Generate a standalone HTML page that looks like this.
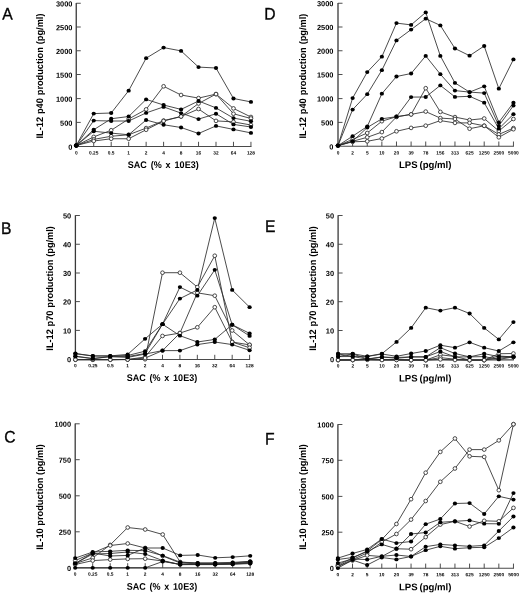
<!DOCTYPE html>
<html lang="en">
<head>
<meta charset="utf-8">
<title>IL-12 p40, IL-12 p70 and IL-10 production</title>
<style>
html,body{margin:0;padding:0;background:#fff;}
body{width:520px;height:593px;overflow:hidden;}
svg{display:block;filter:blur(0.3px);}
text{font-family:"Liberation Sans",sans-serif;fill:#000;text-rendering:geometricPrecision;}
.pl{font-size:16.7px;font-weight:400;stroke:#111;stroke-width:0.35px;}
.yt{font-size:7.4px;font-weight:700;text-anchor:end;}
.xt{font-size:4.8px;font-weight:700;text-anchor:middle;}
.at{font-size:9.6px;font-weight:700;text-anchor:middle;}
.ay{fill:none;stroke:#3a3a3a;stroke-width:1.3;}
.ax{fill:none;stroke:#4a4a4a;stroke-width:1.1;}
.tk{fill:none;stroke:#444;stroke-width:0.95;}
.ln{fill:none;stroke:#2c2c2c;stroke-width:0.85;stroke-linejoin:round;}
.mo{fill:#fff;stroke:#2a2a2a;stroke-width:0.85;}
.mf{fill:#000;}
</style>
</head>
<body>
<svg width="520" height="593" viewBox="0 0 520 593" role="img" aria-label="Cytokine production curves, panels A to F">
<rect width="520" height="593" fill="#fff"/>
<g class="panel">
<text class="pl" transform="matrix(0.94 .0005 0 1 2.3 19.6)">A</text>
<path class="ay" d="M76.25 3V147"/>
<path class="ax" d="M75.75 146.5H251.45"/>
<path class="tk" d="M76.25 3.25h4.5M76.25 27h4.5M76.25 50.75h4.5M76.25 74.5h4.5M76.25 98.6h4.5M76.25 122.4h4.5M93.72 146.5v-4.7M111.19 146.5v-4.7M128.66 146.5v-4.7M146.13 146.5v-4.7M163.6 146.5v-4.7M181.07 146.5v-4.7M198.54 146.5v-4.7M216.01 146.5v-4.7M233.48 146.5v-4.7M250.95 146.5v-4.7"/>
<text class="yt" transform="matrix(1 .0005 0 1 72.4 6.5)">3000</text>
<text class="yt" transform="matrix(1 .0005 0 1 72.4 30.25)">2500</text>
<text class="yt" transform="matrix(1 .0005 0 1 72.4 54)">2000</text>
<text class="yt" transform="matrix(1 .0005 0 1 72.4 77.75)">1500</text>
<text class="yt" transform="matrix(1 .0005 0 1 72.4 101.85)">1000</text>
<text class="yt" transform="matrix(1 .0005 0 1 72.4 125.65)">500</text>
<text class="yt" transform="matrix(1 .0005 0 1 72.4 149.75)">0</text>
<text class="xt" transform="matrix(1 .0005 0 1 76.25 154.6)">0</text>
<text class="xt" transform="matrix(1 .0005 0 1 93.72 154.6)">0.25</text>
<text class="xt" transform="matrix(1 .0005 0 1 111.19 154.6)">0.5</text>
<text class="xt" transform="matrix(1 .0005 0 1 128.66 154.6)">1</text>
<text class="xt" transform="matrix(1 .0005 0 1 146.13 154.6)">2</text>
<text class="xt" transform="matrix(1 .0005 0 1 163.6 154.6)">4</text>
<text class="xt" transform="matrix(1 .0005 0 1 181.07 154.6)">8</text>
<text class="xt" transform="matrix(1 .0005 0 1 198.54 154.6)">16</text>
<text class="xt" transform="matrix(1 .0005 0 1 216.01 154.6)">32</text>
<text class="xt" transform="matrix(1 .0005 0 1 233.48 154.6)">64</text>
<text class="xt" transform="matrix(1 .0005 0 1 250.95 154.6)">128</text>
<text class="at" transform="matrix(0.94 .0005 0 1 163.15 167.9)" style="word-spacing:1.55px">SAC (% x 10E3)</text>
<text class="at" transform="translate(43.4 76) rotate(-90) scale(0.96 1)" style="word-spacing:0.4px">IL-12 p40 production (pg/ml)</text>
<polyline class="ln" points="76.25,145.5 93.72,113.6 111.19,113 128.66,90.7 146.13,58.2 163.6,47.6 181.07,50.9 198.54,67.1 216.01,68 233.48,98.5 250.95,101.9"/>
<polyline class="ln" points="76.25,145.5 93.72,120.6 111.19,121 128.66,121 146.13,112.9 163.6,106.9 181.07,113.1 198.54,119.1 216.01,113.75 233.48,124.4 250.95,127"/>
<polyline class="ln" points="76.25,145.5 93.72,129.75 111.19,118.75 128.66,116.5 146.13,99.4 163.6,105 181.07,109.4 198.54,101 216.01,107.9 233.48,118.1 250.95,121.25"/>
<polyline class="ln" points="76.25,145.5 93.72,131.25 111.19,133.1 128.66,134.75 146.13,120 163.6,124.75 181.07,127.5 198.54,133.5 216.01,125.9 233.48,129.4 250.95,132.9"/>
<polyline class="ln" points="76.25,145.5 93.72,136.9 111.19,130.25 128.66,119 146.13,109.4 163.6,86.3 181.07,95 198.54,98.1 216.01,94.1 233.48,108.4 250.95,117"/>
<polyline class="ln" points="76.25,145.5 93.72,139.4 111.19,136.25 128.66,134.75 146.13,128.1 163.6,120.6 181.07,116.5 198.54,103.5 216.01,94.1 233.48,113.75 250.95,118.5"/>
<polyline class="ln" points="76.25,145.5 93.72,141 111.19,138.75 128.66,138.75 146.13,129.75 163.6,121 181.07,116.5 198.54,109 216.01,120.9 233.48,121.9 250.95,125"/>
<circle class="mo" cx="76.25" cy="145.5" r="1.85"/>
<circle class="mo" cx="93.72" cy="136.9" r="1.85"/>
<circle class="mo" cx="111.19" cy="130.25" r="1.85"/>
<circle class="mo" cx="128.66" cy="119" r="1.85"/>
<circle class="mo" cx="146.13" cy="109.4" r="1.85"/>
<circle class="mo" cx="163.6" cy="86.3" r="1.85"/>
<circle class="mo" cx="181.07" cy="95" r="1.85"/>
<circle class="mo" cx="198.54" cy="98.1" r="1.85"/>
<circle class="mo" cx="216.01" cy="94.1" r="1.85"/>
<circle class="mo" cx="233.48" cy="108.4" r="1.85"/>
<circle class="mo" cx="250.95" cy="117" r="1.85"/>
<circle class="mo" cx="76.25" cy="145.5" r="1.85"/>
<circle class="mo" cx="93.72" cy="139.4" r="1.85"/>
<circle class="mo" cx="111.19" cy="136.25" r="1.85"/>
<circle class="mo" cx="128.66" cy="134.75" r="1.85"/>
<circle class="mo" cx="146.13" cy="128.1" r="1.85"/>
<circle class="mo" cx="163.6" cy="120.6" r="1.85"/>
<circle class="mo" cx="181.07" cy="116.5" r="1.85"/>
<circle class="mo" cx="198.54" cy="103.5" r="1.85"/>
<circle class="mo" cx="216.01" cy="94.1" r="1.85"/>
<circle class="mo" cx="233.48" cy="113.75" r="1.85"/>
<circle class="mo" cx="250.95" cy="118.5" r="1.85"/>
<circle class="mo" cx="76.25" cy="145.5" r="1.85"/>
<circle class="mo" cx="93.72" cy="141" r="1.85"/>
<circle class="mo" cx="111.19" cy="138.75" r="1.85"/>
<circle class="mo" cx="128.66" cy="138.75" r="1.85"/>
<circle class="mo" cx="146.13" cy="129.75" r="1.85"/>
<circle class="mo" cx="163.6" cy="121" r="1.85"/>
<circle class="mo" cx="181.07" cy="116.5" r="1.85"/>
<circle class="mo" cx="198.54" cy="109" r="1.85"/>
<circle class="mo" cx="216.01" cy="120.9" r="1.85"/>
<circle class="mo" cx="233.48" cy="121.9" r="1.85"/>
<circle class="mo" cx="250.95" cy="125" r="1.85"/>
<ellipse class="mf" cx="76.25" cy="145.5" rx="2.1" ry="1.9"/>
<ellipse class="mf" cx="93.72" cy="113.6" rx="2.1" ry="1.9"/>
<ellipse class="mf" cx="111.19" cy="113" rx="2.1" ry="1.9"/>
<ellipse class="mf" cx="128.66" cy="90.7" rx="2.1" ry="1.9"/>
<ellipse class="mf" cx="146.13" cy="58.2" rx="2.1" ry="1.9"/>
<ellipse class="mf" cx="163.6" cy="47.6" rx="2.1" ry="1.9"/>
<ellipse class="mf" cx="181.07" cy="50.9" rx="2.1" ry="1.9"/>
<ellipse class="mf" cx="198.54" cy="67.1" rx="2.1" ry="1.9"/>
<ellipse class="mf" cx="216.01" cy="68" rx="2.1" ry="1.9"/>
<ellipse class="mf" cx="233.48" cy="98.5" rx="2.1" ry="1.9"/>
<ellipse class="mf" cx="250.95" cy="101.9" rx="2.1" ry="1.9"/>
<ellipse class="mf" cx="76.25" cy="145.5" rx="2.1" ry="1.9"/>
<ellipse class="mf" cx="93.72" cy="120.6" rx="2.1" ry="1.9"/>
<ellipse class="mf" cx="111.19" cy="121" rx="2.1" ry="1.9"/>
<ellipse class="mf" cx="128.66" cy="121" rx="2.1" ry="1.9"/>
<ellipse class="mf" cx="146.13" cy="112.9" rx="2.1" ry="1.9"/>
<ellipse class="mf" cx="163.6" cy="106.9" rx="2.1" ry="1.9"/>
<ellipse class="mf" cx="181.07" cy="113.1" rx="2.1" ry="1.9"/>
<ellipse class="mf" cx="198.54" cy="119.1" rx="2.1" ry="1.9"/>
<ellipse class="mf" cx="216.01" cy="113.75" rx="2.1" ry="1.9"/>
<ellipse class="mf" cx="233.48" cy="124.4" rx="2.1" ry="1.9"/>
<ellipse class="mf" cx="250.95" cy="127" rx="2.1" ry="1.9"/>
<ellipse class="mf" cx="76.25" cy="145.5" rx="2.1" ry="1.9"/>
<ellipse class="mf" cx="93.72" cy="129.75" rx="2.1" ry="1.9"/>
<ellipse class="mf" cx="111.19" cy="118.75" rx="2.1" ry="1.9"/>
<ellipse class="mf" cx="128.66" cy="116.5" rx="2.1" ry="1.9"/>
<ellipse class="mf" cx="146.13" cy="99.4" rx="2.1" ry="1.9"/>
<ellipse class="mf" cx="163.6" cy="105" rx="2.1" ry="1.9"/>
<ellipse class="mf" cx="181.07" cy="109.4" rx="2.1" ry="1.9"/>
<ellipse class="mf" cx="198.54" cy="101" rx="2.1" ry="1.9"/>
<ellipse class="mf" cx="216.01" cy="107.9" rx="2.1" ry="1.9"/>
<ellipse class="mf" cx="233.48" cy="118.1" rx="2.1" ry="1.9"/>
<ellipse class="mf" cx="250.95" cy="121.25" rx="2.1" ry="1.9"/>
<ellipse class="mf" cx="76.25" cy="145.5" rx="2.1" ry="1.9"/>
<ellipse class="mf" cx="93.72" cy="131.25" rx="2.1" ry="1.9"/>
<ellipse class="mf" cx="111.19" cy="133.1" rx="2.1" ry="1.9"/>
<ellipse class="mf" cx="128.66" cy="134.75" rx="2.1" ry="1.9"/>
<ellipse class="mf" cx="146.13" cy="120" rx="2.1" ry="1.9"/>
<ellipse class="mf" cx="163.6" cy="124.75" rx="2.1" ry="1.9"/>
<ellipse class="mf" cx="181.07" cy="127.5" rx="2.1" ry="1.9"/>
<ellipse class="mf" cx="198.54" cy="133.5" rx="2.1" ry="1.9"/>
<ellipse class="mf" cx="216.01" cy="125.9" rx="2.1" ry="1.9"/>
<ellipse class="mf" cx="233.48" cy="129.4" rx="2.1" ry="1.9"/>
<ellipse class="mf" cx="250.95" cy="132.9" rx="2.1" ry="1.9"/>
</g>
<g class="panel">
<text class="pl" transform="matrix(0.94 .0005 0 1 1 233.9)">B</text>
<path class="ay" d="M75.4 215.2V360"/>
<path class="ax" d="M74.9 359.5H250.1"/>
<path class="tk" d="M75.4 215.5h4.5M75.4 244.25h4.5M75.4 273h4.5M75.4 301.6h4.5M75.4 330.4h4.5M92.82 359.5v-4.7M110.24 359.5v-4.7M127.66 359.5v-4.7M145.08 359.5v-4.7M162.5 359.5v-4.7M179.92 359.5v-4.7M197.34 359.5v-4.7M214.76 359.5v-4.7M232.18 359.5v-4.7M249.6 359.5v-4.7"/>
<text class="yt" transform="matrix(1 .0005 0 1 71.2 218.5)">50</text>
<text class="yt" transform="matrix(1 .0005 0 1 71.2 247.25)">40</text>
<text class="yt" transform="matrix(1 .0005 0 1 71.2 276)">30</text>
<text class="yt" transform="matrix(1 .0005 0 1 71.2 304.6)">20</text>
<text class="yt" transform="matrix(1 .0005 0 1 71.2 333.4)">10</text>
<text class="yt" transform="matrix(1 .0005 0 1 71.2 362.3)">0</text>
<text class="xt" transform="matrix(1 .0005 0 1 75.4 367.2)">0</text>
<text class="xt" transform="matrix(1 .0005 0 1 92.82 367.2)">0.25</text>
<text class="xt" transform="matrix(1 .0005 0 1 110.24 367.2)">0.5</text>
<text class="xt" transform="matrix(1 .0005 0 1 127.66 367.2)">1</text>
<text class="xt" transform="matrix(1 .0005 0 1 145.08 367.2)">2</text>
<text class="xt" transform="matrix(1 .0005 0 1 162.5 367.2)">4</text>
<text class="xt" transform="matrix(1 .0005 0 1 179.92 367.2)">8</text>
<text class="xt" transform="matrix(1 .0005 0 1 197.34 367.2)">16</text>
<text class="xt" transform="matrix(1 .0005 0 1 214.76 367.2)">32</text>
<text class="xt" transform="matrix(1 .0005 0 1 232.18 367.2)">64</text>
<text class="xt" transform="matrix(1 .0005 0 1 249.6 367.2)">128</text>
<text class="at" transform="matrix(0.94 .0005 0 1 161.95 381)" style="word-spacing:1.34px">SAC (% x 10E3)</text>
<text class="at" transform="translate(52.7 288.4) rotate(-90) scale(0.96 1)" style="word-spacing:0.26px">IL-12 p70 production (pg/ml)</text>
<polyline class="ln" points="75.4,353.5 92.82,355.9 110.24,355.9 127.66,354.4 145.08,338.84 162.5,324.18 179.92,335.68 197.34,342 214.76,339.41 232.18,324.75 249.6,333.38"/>
<polyline class="ln" points="75.4,353.7 92.82,356 110.24,356 127.66,355.5 145.08,351.2 162.5,324.18 179.92,287.09 197.34,295.71 214.76,269.84 232.18,324.75 249.6,335.96"/>
<polyline class="ln" points="75.4,356.2 92.82,358.5 110.24,356.5 127.66,356.6 145.08,353.5 162.5,324.18 179.92,298.59 197.34,289.96 214.76,218.09 232.18,289.96 249.6,307.21"/>
<polyline class="ln" points="75.4,356.4 92.82,358.7 110.24,356.7 127.66,357.4 145.08,354.07 162.5,350.62 179.92,350.62 197.34,344.59 214.76,342 232.18,344.59 249.6,350.34"/>
<polyline class="ln" points="75.4,359.7 92.82,359.7 110.24,359.7 127.66,359.4 145.08,359.25 162.5,272.71 179.92,272.71 197.34,287.09 214.76,255.75 232.18,342 249.6,344.88"/>
<polyline class="ln" points="75.4,359.7 92.82,359.7 110.24,359.7 127.66,359.5 145.08,356.95 162.5,335.96 179.92,333.09 197.34,292.84 214.76,295.71 232.18,330.5 249.6,344.88"/>
<polyline class="ln" points="75.4,359.7 92.82,359.7 110.24,359.7 127.66,359.6 145.08,358.1 162.5,350.62 179.92,333.09 197.34,327.34 214.76,307.21 232.18,342 249.6,347.75"/>
<circle class="mo" cx="75.4" cy="359.7" r="1.85"/>
<circle class="mo" cx="92.82" cy="359.7" r="1.85"/>
<circle class="mo" cx="110.24" cy="359.7" r="1.85"/>
<circle class="mo" cx="127.66" cy="359.4" r="1.85"/>
<circle class="mo" cx="145.08" cy="359.25" r="1.85"/>
<circle class="mo" cx="162.5" cy="272.71" r="1.85"/>
<circle class="mo" cx="179.92" cy="272.71" r="1.85"/>
<circle class="mo" cx="197.34" cy="287.09" r="1.85"/>
<circle class="mo" cx="214.76" cy="255.75" r="1.85"/>
<circle class="mo" cx="232.18" cy="342" r="1.85"/>
<circle class="mo" cx="249.6" cy="344.88" r="1.85"/>
<circle class="mo" cx="75.4" cy="359.7" r="1.85"/>
<circle class="mo" cx="92.82" cy="359.7" r="1.85"/>
<circle class="mo" cx="110.24" cy="359.7" r="1.85"/>
<circle class="mo" cx="127.66" cy="359.5" r="1.85"/>
<circle class="mo" cx="145.08" cy="356.95" r="1.85"/>
<circle class="mo" cx="162.5" cy="335.96" r="1.85"/>
<circle class="mo" cx="179.92" cy="333.09" r="1.85"/>
<circle class="mo" cx="197.34" cy="292.84" r="1.85"/>
<circle class="mo" cx="214.76" cy="295.71" r="1.85"/>
<circle class="mo" cx="232.18" cy="330.5" r="1.85"/>
<circle class="mo" cx="249.6" cy="344.88" r="1.85"/>
<circle class="mo" cx="75.4" cy="359.7" r="1.85"/>
<circle class="mo" cx="92.82" cy="359.7" r="1.85"/>
<circle class="mo" cx="110.24" cy="359.7" r="1.85"/>
<circle class="mo" cx="127.66" cy="359.6" r="1.85"/>
<circle class="mo" cx="145.08" cy="358.1" r="1.85"/>
<circle class="mo" cx="162.5" cy="350.62" r="1.85"/>
<circle class="mo" cx="179.92" cy="333.09" r="1.85"/>
<circle class="mo" cx="197.34" cy="327.34" r="1.85"/>
<circle class="mo" cx="214.76" cy="307.21" r="1.85"/>
<circle class="mo" cx="232.18" cy="342" r="1.85"/>
<circle class="mo" cx="249.6" cy="347.75" r="1.85"/>
<ellipse class="mf" cx="75.4" cy="353.5" rx="2.1" ry="1.9"/>
<ellipse class="mf" cx="92.82" cy="355.9" rx="2.1" ry="1.9"/>
<ellipse class="mf" cx="110.24" cy="355.9" rx="2.1" ry="1.9"/>
<ellipse class="mf" cx="127.66" cy="354.4" rx="2.1" ry="1.9"/>
<ellipse class="mf" cx="145.08" cy="338.84" rx="2.1" ry="1.9"/>
<ellipse class="mf" cx="162.5" cy="324.18" rx="2.1" ry="1.9"/>
<ellipse class="mf" cx="179.92" cy="335.68" rx="2.1" ry="1.9"/>
<ellipse class="mf" cx="197.34" cy="342" rx="2.1" ry="1.9"/>
<ellipse class="mf" cx="214.76" cy="339.41" rx="2.1" ry="1.9"/>
<ellipse class="mf" cx="232.18" cy="324.75" rx="2.1" ry="1.9"/>
<ellipse class="mf" cx="249.6" cy="333.38" rx="2.1" ry="1.9"/>
<ellipse class="mf" cx="75.4" cy="353.7" rx="2.1" ry="1.9"/>
<ellipse class="mf" cx="92.82" cy="356" rx="2.1" ry="1.9"/>
<ellipse class="mf" cx="110.24" cy="356" rx="2.1" ry="1.9"/>
<ellipse class="mf" cx="127.66" cy="355.5" rx="2.1" ry="1.9"/>
<ellipse class="mf" cx="145.08" cy="351.2" rx="2.1" ry="1.9"/>
<ellipse class="mf" cx="162.5" cy="324.18" rx="2.1" ry="1.9"/>
<ellipse class="mf" cx="179.92" cy="287.09" rx="2.1" ry="1.9"/>
<ellipse class="mf" cx="197.34" cy="295.71" rx="2.1" ry="1.9"/>
<ellipse class="mf" cx="214.76" cy="269.84" rx="2.1" ry="1.9"/>
<ellipse class="mf" cx="232.18" cy="324.75" rx="2.1" ry="1.9"/>
<ellipse class="mf" cx="249.6" cy="335.96" rx="2.1" ry="1.9"/>
<ellipse class="mf" cx="75.4" cy="356.2" rx="2.1" ry="1.9"/>
<ellipse class="mf" cx="92.82" cy="358.5" rx="2.1" ry="1.9"/>
<ellipse class="mf" cx="110.24" cy="356.5" rx="2.1" ry="1.9"/>
<ellipse class="mf" cx="127.66" cy="356.6" rx="2.1" ry="1.9"/>
<ellipse class="mf" cx="145.08" cy="353.5" rx="2.1" ry="1.9"/>
<ellipse class="mf" cx="162.5" cy="324.18" rx="2.1" ry="1.9"/>
<ellipse class="mf" cx="179.92" cy="298.59" rx="2.1" ry="1.9"/>
<ellipse class="mf" cx="197.34" cy="289.96" rx="2.1" ry="1.9"/>
<ellipse class="mf" cx="214.76" cy="218.09" rx="2.1" ry="1.9"/>
<ellipse class="mf" cx="232.18" cy="289.96" rx="2.1" ry="1.9"/>
<ellipse class="mf" cx="249.6" cy="307.21" rx="2.1" ry="1.9"/>
<ellipse class="mf" cx="75.4" cy="356.4" rx="2.1" ry="1.9"/>
<ellipse class="mf" cx="92.82" cy="358.7" rx="2.1" ry="1.9"/>
<ellipse class="mf" cx="110.24" cy="356.7" rx="2.1" ry="1.9"/>
<ellipse class="mf" cx="127.66" cy="357.4" rx="2.1" ry="1.9"/>
<ellipse class="mf" cx="145.08" cy="354.07" rx="2.1" ry="1.9"/>
<ellipse class="mf" cx="162.5" cy="350.62" rx="2.1" ry="1.9"/>
<ellipse class="mf" cx="179.92" cy="350.62" rx="2.1" ry="1.9"/>
<ellipse class="mf" cx="197.34" cy="344.59" rx="2.1" ry="1.9"/>
<ellipse class="mf" cx="214.76" cy="342" rx="2.1" ry="1.9"/>
<ellipse class="mf" cx="232.18" cy="344.59" rx="2.1" ry="1.9"/>
<ellipse class="mf" cx="249.6" cy="350.34" rx="2.1" ry="1.9"/>
</g>
<g class="panel">
<text class="pl" transform="matrix(0.94 .0005 0 1 4.3 442.5)">C</text>
<path class="ay" d="M75.2 423.5V568.4"/>
<path class="ax" d="M74.7 567.9H250.7"/>
<path class="tk" d="M75.2 423.8h4.5M75.2 459.7h4.5M75.2 495.8h4.5M75.2 531.8h4.5M92.7 567.9v-4.7M110.2 567.9v-4.7M127.7 567.9v-4.7M145.2 567.9v-4.7M162.7 567.9v-4.7M180.2 567.9v-4.7M197.7 567.9v-4.7M215.2 567.9v-4.7M232.7 567.9v-4.7M250.2 567.9v-4.7"/>
<text class="yt" transform="matrix(1 .0005 0 1 71 426.8)">1000</text>
<text class="yt" transform="matrix(1 .0005 0 1 71 462.7)">750</text>
<text class="yt" transform="matrix(1 .0005 0 1 71 498.8)">500</text>
<text class="yt" transform="matrix(1 .0005 0 1 71 534.8)">250</text>
<text class="yt" transform="matrix(1 .0005 0 1 71 570.9)">0</text>
<text class="xt" transform="matrix(1 .0005 0 1 75.2 575.7)">0</text>
<text class="xt" transform="matrix(1 .0005 0 1 92.7 575.7)">0.25</text>
<text class="xt" transform="matrix(1 .0005 0 1 110.2 575.7)">0.5</text>
<text class="xt" transform="matrix(1 .0005 0 1 127.7 575.7)">1</text>
<text class="xt" transform="matrix(1 .0005 0 1 145.2 575.7)">2</text>
<text class="xt" transform="matrix(1 .0005 0 1 162.7 575.7)">4</text>
<text class="xt" transform="matrix(1 .0005 0 1 180.2 575.7)">8</text>
<text class="xt" transform="matrix(1 .0005 0 1 197.7 575.7)">16</text>
<text class="xt" transform="matrix(1 .0005 0 1 215.2 575.7)">32</text>
<text class="xt" transform="matrix(1 .0005 0 1 232.7 575.7)">64</text>
<text class="xt" transform="matrix(1 .0005 0 1 250.2 575.7)">128</text>
<text class="at" transform="matrix(0.94 .0005 0 1 161.95 589.7)" style="word-spacing:1.34px">SAC (% x 10E3)</text>
<text class="at" transform="translate(43.3 497) rotate(-90) scale(0.96 1)" style="word-spacing:0.1px">IL-10 production (pg/ml)</text>
<polyline class="ln" points="75.2,567.8 92.7,567.8 110.2,567.8 127.7,567.8 145.2,567.8 162.7,561.5 180.2,564.3 197.7,564.2 215.2,564.2 232.7,563.8 250.2,562.5"/>
<polyline class="ln" points="75.2,558.1 92.7,552 110.2,551.3 127.7,550.3 145.2,550.7 162.7,555.6 180.2,562.2 197.7,562.8 215.2,562.8 232.7,562.4 250.2,561.3"/>
<polyline class="ln" points="75.2,563.5 92.7,554 110.2,553.5 127.7,552 145.2,554 162.7,560.6 180.2,564.6 197.7,564.6 215.2,564.6 232.7,564.2 250.2,563.6"/>
<polyline class="ln" points="75.2,563.5 92.7,553 110.2,556 127.7,555.4 145.2,548 162.7,548 180.2,555.4 197.7,555 215.2,557.8 232.7,557.1 250.2,555.8"/>
<polyline class="ln" points="75.2,563.5 92.7,557.9 110.2,544.9 127.7,527.5 145.2,529.5 162.7,534.5 180.2,562 197.7,563.4 215.2,563.4 232.7,563 250.2,561.5"/>
<polyline class="ln" points="75.2,560.6 92.7,553 110.2,545.5 127.7,543.5 145.2,548 162.7,556 180.2,563 197.7,563.8 215.2,563.8 232.7,563.4 250.2,562.4"/>
<polyline class="ln" points="75.2,564.5 92.7,560.6 110.2,559.6 127.7,558.9 145.2,558.7 162.7,561 180.2,564.6 197.7,564.4 215.2,564.4 232.7,564 250.2,563.2"/>
<circle class="mo" cx="75.2" cy="563.5" r="1.85"/>
<circle class="mo" cx="92.7" cy="557.9" r="1.85"/>
<circle class="mo" cx="110.2" cy="544.9" r="1.85"/>
<circle class="mo" cx="127.7" cy="527.5" r="1.85"/>
<circle class="mo" cx="145.2" cy="529.5" r="1.85"/>
<circle class="mo" cx="162.7" cy="534.5" r="1.85"/>
<circle class="mo" cx="180.2" cy="562" r="1.85"/>
<circle class="mo" cx="197.7" cy="563.4" r="1.85"/>
<circle class="mo" cx="215.2" cy="563.4" r="1.85"/>
<circle class="mo" cx="232.7" cy="563" r="1.85"/>
<circle class="mo" cx="250.2" cy="561.5" r="1.85"/>
<circle class="mo" cx="75.2" cy="560.6" r="1.85"/>
<circle class="mo" cx="92.7" cy="553" r="1.85"/>
<circle class="mo" cx="110.2" cy="545.5" r="1.85"/>
<circle class="mo" cx="127.7" cy="543.5" r="1.85"/>
<circle class="mo" cx="145.2" cy="548" r="1.85"/>
<circle class="mo" cx="162.7" cy="556" r="1.85"/>
<circle class="mo" cx="180.2" cy="563" r="1.85"/>
<circle class="mo" cx="197.7" cy="563.8" r="1.85"/>
<circle class="mo" cx="215.2" cy="563.8" r="1.85"/>
<circle class="mo" cx="232.7" cy="563.4" r="1.85"/>
<circle class="mo" cx="250.2" cy="562.4" r="1.85"/>
<circle class="mo" cx="75.2" cy="564.5" r="1.85"/>
<circle class="mo" cx="92.7" cy="560.6" r="1.85"/>
<circle class="mo" cx="110.2" cy="559.6" r="1.85"/>
<circle class="mo" cx="127.7" cy="558.9" r="1.85"/>
<circle class="mo" cx="145.2" cy="558.7" r="1.85"/>
<circle class="mo" cx="162.7" cy="561" r="1.85"/>
<circle class="mo" cx="180.2" cy="564.6" r="1.85"/>
<circle class="mo" cx="197.7" cy="564.4" r="1.85"/>
<circle class="mo" cx="215.2" cy="564.4" r="1.85"/>
<circle class="mo" cx="232.7" cy="564" r="1.85"/>
<circle class="mo" cx="250.2" cy="563.2" r="1.85"/>
<ellipse class="mf" cx="75.2" cy="567.8" rx="2.1" ry="1.9"/>
<ellipse class="mf" cx="92.7" cy="567.8" rx="2.1" ry="1.9"/>
<ellipse class="mf" cx="110.2" cy="567.8" rx="2.1" ry="1.9"/>
<ellipse class="mf" cx="127.7" cy="567.8" rx="2.1" ry="1.9"/>
<ellipse class="mf" cx="145.2" cy="567.8" rx="2.1" ry="1.9"/>
<ellipse class="mf" cx="162.7" cy="561.5" rx="2.1" ry="1.9"/>
<ellipse class="mf" cx="180.2" cy="564.3" rx="2.1" ry="1.9"/>
<ellipse class="mf" cx="197.7" cy="564.2" rx="2.1" ry="1.9"/>
<ellipse class="mf" cx="215.2" cy="564.2" rx="2.1" ry="1.9"/>
<ellipse class="mf" cx="232.7" cy="563.8" rx="2.1" ry="1.9"/>
<ellipse class="mf" cx="250.2" cy="562.5" rx="2.1" ry="1.9"/>
<ellipse class="mf" cx="75.2" cy="558.1" rx="2.1" ry="1.9"/>
<ellipse class="mf" cx="92.7" cy="552" rx="2.1" ry="1.9"/>
<ellipse class="mf" cx="110.2" cy="551.3" rx="2.1" ry="1.9"/>
<ellipse class="mf" cx="127.7" cy="550.3" rx="2.1" ry="1.9"/>
<ellipse class="mf" cx="145.2" cy="550.7" rx="2.1" ry="1.9"/>
<ellipse class="mf" cx="162.7" cy="555.6" rx="2.1" ry="1.9"/>
<ellipse class="mf" cx="180.2" cy="562.2" rx="2.1" ry="1.9"/>
<ellipse class="mf" cx="197.7" cy="562.8" rx="2.1" ry="1.9"/>
<ellipse class="mf" cx="215.2" cy="562.8" rx="2.1" ry="1.9"/>
<ellipse class="mf" cx="232.7" cy="562.4" rx="2.1" ry="1.9"/>
<ellipse class="mf" cx="250.2" cy="561.3" rx="2.1" ry="1.9"/>
<ellipse class="mf" cx="75.2" cy="563.5" rx="2.1" ry="1.9"/>
<ellipse class="mf" cx="92.7" cy="554" rx="2.1" ry="1.9"/>
<ellipse class="mf" cx="110.2" cy="553.5" rx="2.1" ry="1.9"/>
<ellipse class="mf" cx="127.7" cy="552" rx="2.1" ry="1.9"/>
<ellipse class="mf" cx="145.2" cy="554" rx="2.1" ry="1.9"/>
<ellipse class="mf" cx="162.7" cy="560.6" rx="2.1" ry="1.9"/>
<ellipse class="mf" cx="180.2" cy="564.6" rx="2.1" ry="1.9"/>
<ellipse class="mf" cx="197.7" cy="564.6" rx="2.1" ry="1.9"/>
<ellipse class="mf" cx="215.2" cy="564.6" rx="2.1" ry="1.9"/>
<ellipse class="mf" cx="232.7" cy="564.2" rx="2.1" ry="1.9"/>
<ellipse class="mf" cx="250.2" cy="563.6" rx="2.1" ry="1.9"/>
<ellipse class="mf" cx="75.2" cy="563.5" rx="2.1" ry="1.9"/>
<ellipse class="mf" cx="92.7" cy="553" rx="2.1" ry="1.9"/>
<ellipse class="mf" cx="110.2" cy="556" rx="2.1" ry="1.9"/>
<ellipse class="mf" cx="127.7" cy="555.4" rx="2.1" ry="1.9"/>
<ellipse class="mf" cx="145.2" cy="548" rx="2.1" ry="1.9"/>
<ellipse class="mf" cx="162.7" cy="548" rx="2.1" ry="1.9"/>
<ellipse class="mf" cx="180.2" cy="555.4" rx="2.1" ry="1.9"/>
<ellipse class="mf" cx="197.7" cy="555" rx="2.1" ry="1.9"/>
<ellipse class="mf" cx="215.2" cy="557.8" rx="2.1" ry="1.9"/>
<ellipse class="mf" cx="232.7" cy="557.1" rx="2.1" ry="1.9"/>
<ellipse class="mf" cx="250.2" cy="555.8" rx="2.1" ry="1.9"/>
</g>
<g class="panel">
<text class="pl" transform="matrix(0.94 .0005 0 1 264.3 19.6)">D</text>
<path class="ay" d="M338 3V146.7"/>
<path class="ax" d="M337.5 146.2H513.94"/>
<path class="tk" d="M338 3.25h4.5M338 27h4.5M338 50.75h4.5M338 74.5h4.5M338 98.6h4.5M338 122.4h4.5M352.62 146.2v-4.7M367.24 146.2v-4.7M381.86 146.2v-4.7M396.48 146.2v-4.7M411.1 146.2v-4.7M425.72 146.2v-4.7M440.34 146.2v-4.7M454.96 146.2v-4.7M469.58 146.2v-4.7M484.2 146.2v-4.7M498.82 146.2v-4.7M513.44 146.2v-4.7"/>
<text class="yt" transform="matrix(1 .0005 0 1 333.4 6.25)">3000</text>
<text class="yt" transform="matrix(1 .0005 0 1 333.4 30)">2500</text>
<text class="yt" transform="matrix(1 .0005 0 1 333.4 53.75)">2000</text>
<text class="yt" transform="matrix(1 .0005 0 1 333.4 77.5)">1500</text>
<text class="yt" transform="matrix(1 .0005 0 1 333.4 101.6)">1000</text>
<text class="yt" transform="matrix(1 .0005 0 1 333.4 125.4)">500</text>
<text class="yt" transform="matrix(1 .0005 0 1 333.4 149.5)">0</text>
<text class="xt" transform="matrix(1 .0005 0 1 338 154.6)">0</text>
<text class="xt" transform="matrix(1 .0005 0 1 352.62 154.6)">2</text>
<text class="xt" transform="matrix(1 .0005 0 1 367.24 154.6)">5</text>
<text class="xt" transform="matrix(1 .0005 0 1 381.86 154.6)">10</text>
<text class="xt" transform="matrix(1 .0005 0 1 396.48 154.6)">20</text>
<text class="xt" transform="matrix(1 .0005 0 1 411.1 154.6)">39</text>
<text class="xt" transform="matrix(1 .0005 0 1 425.72 154.6)">78</text>
<text class="xt" transform="matrix(1 .0005 0 1 440.34 154.6)">156</text>
<text class="xt" transform="matrix(1 .0005 0 1 454.96 154.6)">313</text>
<text class="xt" transform="matrix(1 .0005 0 1 469.58 154.6)">625</text>
<text class="xt" transform="matrix(1 .0005 0 1 484.2 154.6)">1250</text>
<text class="xt" transform="matrix(1 .0005 0 1 498.82 154.6)">2500</text>
<text class="xt" transform="matrix(1 .0005 0 1 513.44 154.6)">5000</text>
<text class="at" transform="matrix(1 .0005 0 1 425.2 167.9)" style="word-spacing:-0.73px">LPS (pg/ml)</text>
<text class="at" transform="translate(306.2 76.1) rotate(-90) scale(0.96 1)" style="word-spacing:0.36px">IL-12 p40 production (pg/ml)</text>
<polyline class="ln" points="338,145.6 352.62,98.1 367.24,72.1 381.86,56.7 396.48,23.1 411.1,24.9 425.72,12.4 440.34,55.9 454.96,82.9 469.58,92.1 484.2,86.3 498.82,122.3 513.44,102.7"/>
<polyline class="ln" points="338,145.6 352.62,109.6 367.24,94.2 381.86,70.2 396.48,40.4 411.1,29.6 425.72,18.7 440.34,25.4 454.96,48.5 469.58,55.7 484.2,46 498.82,88.7 513.44,59.4"/>
<polyline class="ln" points="338,145.6 352.62,136.2 367.24,126.5 381.86,93.7 396.48,76.5 411.1,73.5 425.72,55.9 440.34,74.2 454.96,90.6 469.58,92.1 484.2,93.1 498.82,125.8 513.44,105.6"/>
<polyline class="ln" points="338,145.6 352.62,141.3 367.24,127.5 381.86,118.8 396.48,116.7 411.1,97.1 425.72,97 440.34,85.4 454.96,96.9 469.58,96.3 484.2,102.7 498.82,128.7 513.44,114.2"/>
<polyline class="ln" points="338,145.6 352.62,139.4 367.24,133 381.86,121.2 396.48,116.7 411.1,114.4 425.72,88.2 440.34,111.9 454.96,117.1 469.58,120 484.2,118.5 498.82,131 513.44,119"/>
<polyline class="ln" points="338,145.6 352.62,141.3 367.24,137.3 381.86,132.1 396.48,116.9 411.1,114.4 425.72,111.6 440.34,118.1 454.96,119 469.58,128.7 484.2,125.8 498.82,134.4 513.44,128.1"/>
<polyline class="ln" points="338,145.6 352.62,141.8 367.24,141.3 381.86,138.5 396.48,131.3 411.1,127.9 425.72,125.7 440.34,120.6 454.96,122.9 469.58,122.9 484.2,125.8 498.82,137.3 513.44,129.2"/>
<circle class="mo" cx="338" cy="145.6" r="1.85"/>
<circle class="mo" cx="352.62" cy="139.4" r="1.85"/>
<circle class="mo" cx="367.24" cy="133" r="1.85"/>
<circle class="mo" cx="381.86" cy="121.2" r="1.85"/>
<circle class="mo" cx="396.48" cy="116.7" r="1.85"/>
<circle class="mo" cx="411.1" cy="114.4" r="1.85"/>
<circle class="mo" cx="425.72" cy="88.2" r="1.85"/>
<circle class="mo" cx="440.34" cy="111.9" r="1.85"/>
<circle class="mo" cx="454.96" cy="117.1" r="1.85"/>
<circle class="mo" cx="469.58" cy="120" r="1.85"/>
<circle class="mo" cx="484.2" cy="118.5" r="1.85"/>
<circle class="mo" cx="498.82" cy="131" r="1.85"/>
<circle class="mo" cx="513.44" cy="119" r="1.85"/>
<circle class="mo" cx="338" cy="145.6" r="1.85"/>
<circle class="mo" cx="352.62" cy="141.3" r="1.85"/>
<circle class="mo" cx="367.24" cy="137.3" r="1.85"/>
<circle class="mo" cx="381.86" cy="132.1" r="1.85"/>
<circle class="mo" cx="396.48" cy="116.9" r="1.85"/>
<circle class="mo" cx="411.1" cy="114.4" r="1.85"/>
<circle class="mo" cx="425.72" cy="111.6" r="1.85"/>
<circle class="mo" cx="440.34" cy="118.1" r="1.85"/>
<circle class="mo" cx="454.96" cy="119" r="1.85"/>
<circle class="mo" cx="469.58" cy="128.7" r="1.85"/>
<circle class="mo" cx="484.2" cy="125.8" r="1.85"/>
<circle class="mo" cx="498.82" cy="134.4" r="1.85"/>
<circle class="mo" cx="513.44" cy="128.1" r="1.85"/>
<circle class="mo" cx="338" cy="145.6" r="1.85"/>
<circle class="mo" cx="352.62" cy="141.8" r="1.85"/>
<circle class="mo" cx="367.24" cy="141.3" r="1.85"/>
<circle class="mo" cx="381.86" cy="138.5" r="1.85"/>
<circle class="mo" cx="396.48" cy="131.3" r="1.85"/>
<circle class="mo" cx="411.1" cy="127.9" r="1.85"/>
<circle class="mo" cx="425.72" cy="125.7" r="1.85"/>
<circle class="mo" cx="440.34" cy="120.6" r="1.85"/>
<circle class="mo" cx="454.96" cy="122.9" r="1.85"/>
<circle class="mo" cx="469.58" cy="122.9" r="1.85"/>
<circle class="mo" cx="484.2" cy="125.8" r="1.85"/>
<circle class="mo" cx="498.82" cy="137.3" r="1.85"/>
<circle class="mo" cx="513.44" cy="129.2" r="1.85"/>
<ellipse class="mf" cx="338" cy="145.6" rx="2.1" ry="1.9"/>
<ellipse class="mf" cx="352.62" cy="98.1" rx="2.1" ry="1.9"/>
<ellipse class="mf" cx="367.24" cy="72.1" rx="2.1" ry="1.9"/>
<ellipse class="mf" cx="381.86" cy="56.7" rx="2.1" ry="1.9"/>
<ellipse class="mf" cx="396.48" cy="23.1" rx="2.1" ry="1.9"/>
<ellipse class="mf" cx="411.1" cy="24.9" rx="2.1" ry="1.9"/>
<ellipse class="mf" cx="425.72" cy="12.4" rx="2.1" ry="1.9"/>
<ellipse class="mf" cx="440.34" cy="55.9" rx="2.1" ry="1.9"/>
<ellipse class="mf" cx="454.96" cy="82.9" rx="2.1" ry="1.9"/>
<ellipse class="mf" cx="469.58" cy="92.1" rx="2.1" ry="1.9"/>
<ellipse class="mf" cx="484.2" cy="86.3" rx="2.1" ry="1.9"/>
<ellipse class="mf" cx="498.82" cy="122.3" rx="2.1" ry="1.9"/>
<ellipse class="mf" cx="513.44" cy="102.7" rx="2.1" ry="1.9"/>
<ellipse class="mf" cx="338" cy="145.6" rx="2.1" ry="1.9"/>
<ellipse class="mf" cx="352.62" cy="109.6" rx="2.1" ry="1.9"/>
<ellipse class="mf" cx="367.24" cy="94.2" rx="2.1" ry="1.9"/>
<ellipse class="mf" cx="381.86" cy="70.2" rx="2.1" ry="1.9"/>
<ellipse class="mf" cx="396.48" cy="40.4" rx="2.1" ry="1.9"/>
<ellipse class="mf" cx="411.1" cy="29.6" rx="2.1" ry="1.9"/>
<ellipse class="mf" cx="425.72" cy="18.7" rx="2.1" ry="1.9"/>
<ellipse class="mf" cx="440.34" cy="25.4" rx="2.1" ry="1.9"/>
<ellipse class="mf" cx="454.96" cy="48.5" rx="2.1" ry="1.9"/>
<ellipse class="mf" cx="469.58" cy="55.7" rx="2.1" ry="1.9"/>
<ellipse class="mf" cx="484.2" cy="46" rx="2.1" ry="1.9"/>
<ellipse class="mf" cx="498.82" cy="88.7" rx="2.1" ry="1.9"/>
<ellipse class="mf" cx="513.44" cy="59.4" rx="2.1" ry="1.9"/>
<ellipse class="mf" cx="338" cy="145.6" rx="2.1" ry="1.9"/>
<ellipse class="mf" cx="352.62" cy="136.2" rx="2.1" ry="1.9"/>
<ellipse class="mf" cx="367.24" cy="126.5" rx="2.1" ry="1.9"/>
<ellipse class="mf" cx="381.86" cy="93.7" rx="2.1" ry="1.9"/>
<ellipse class="mf" cx="396.48" cy="76.5" rx="2.1" ry="1.9"/>
<ellipse class="mf" cx="411.1" cy="73.5" rx="2.1" ry="1.9"/>
<ellipse class="mf" cx="425.72" cy="55.9" rx="2.1" ry="1.9"/>
<ellipse class="mf" cx="440.34" cy="74.2" rx="2.1" ry="1.9"/>
<ellipse class="mf" cx="454.96" cy="90.6" rx="2.1" ry="1.9"/>
<ellipse class="mf" cx="469.58" cy="92.1" rx="2.1" ry="1.9"/>
<ellipse class="mf" cx="484.2" cy="93.1" rx="2.1" ry="1.9"/>
<ellipse class="mf" cx="498.82" cy="125.8" rx="2.1" ry="1.9"/>
<ellipse class="mf" cx="513.44" cy="105.6" rx="2.1" ry="1.9"/>
<ellipse class="mf" cx="338" cy="145.6" rx="2.1" ry="1.9"/>
<ellipse class="mf" cx="352.62" cy="141.3" rx="2.1" ry="1.9"/>
<ellipse class="mf" cx="367.24" cy="127.5" rx="2.1" ry="1.9"/>
<ellipse class="mf" cx="381.86" cy="118.8" rx="2.1" ry="1.9"/>
<ellipse class="mf" cx="396.48" cy="116.7" rx="2.1" ry="1.9"/>
<ellipse class="mf" cx="411.1" cy="97.1" rx="2.1" ry="1.9"/>
<ellipse class="mf" cx="425.72" cy="97" rx="2.1" ry="1.9"/>
<ellipse class="mf" cx="440.34" cy="85.4" rx="2.1" ry="1.9"/>
<ellipse class="mf" cx="454.96" cy="96.9" rx="2.1" ry="1.9"/>
<ellipse class="mf" cx="469.58" cy="96.3" rx="2.1" ry="1.9"/>
<ellipse class="mf" cx="484.2" cy="102.7" rx="2.1" ry="1.9"/>
<ellipse class="mf" cx="498.82" cy="128.7" rx="2.1" ry="1.9"/>
<ellipse class="mf" cx="513.44" cy="114.2" rx="2.1" ry="1.9"/>
</g>
<g class="panel">
<text class="pl" transform="matrix(0.94 .0005 0 1 265.1 231.9)">E</text>
<path class="ay" d="M338.1 215.2V360.4"/>
<path class="ax" d="M337.6 359.9H513.92"/>
<path class="tk" d="M338.1 215.5h4.5M338.1 244.25h4.5M338.1 273h4.5M338.1 301.7h4.5M338.1 330.5h4.5M352.71 359.9v-4.7M367.32 359.9v-4.7M381.93 359.9v-4.7M396.54 359.9v-4.7M411.15 359.9v-4.7M425.76 359.9v-4.7M440.37 359.9v-4.7M454.98 359.9v-4.7M469.59 359.9v-4.7M484.2 359.9v-4.7M498.81 359.9v-4.7M513.42 359.9v-4.7"/>
<text class="yt" transform="matrix(1 .0005 0 1 334.1 218.5)">50</text>
<text class="yt" transform="matrix(1 .0005 0 1 334.1 247.25)">40</text>
<text class="yt" transform="matrix(1 .0005 0 1 334.1 276)">30</text>
<text class="yt" transform="matrix(1 .0005 0 1 334.1 304.7)">20</text>
<text class="yt" transform="matrix(1 .0005 0 1 334.1 333.5)">10</text>
<text class="yt" transform="matrix(1 .0005 0 1 334.1 362.3)">0</text>
<text class="xt" transform="matrix(1 .0005 0 1 338.1 367.5)">0</text>
<text class="xt" transform="matrix(1 .0005 0 1 352.71 367.5)">2</text>
<text class="xt" transform="matrix(1 .0005 0 1 367.32 367.5)">5</text>
<text class="xt" transform="matrix(1 .0005 0 1 381.93 367.5)">10</text>
<text class="xt" transform="matrix(1 .0005 0 1 396.54 367.5)">20</text>
<text class="xt" transform="matrix(1 .0005 0 1 411.15 367.5)">39</text>
<text class="xt" transform="matrix(1 .0005 0 1 425.76 367.5)">78</text>
<text class="xt" transform="matrix(1 .0005 0 1 440.37 367.5)">156</text>
<text class="xt" transform="matrix(1 .0005 0 1 454.98 367.5)">313</text>
<text class="xt" transform="matrix(1 .0005 0 1 469.59 367.5)">625</text>
<text class="xt" transform="matrix(1 .0005 0 1 484.2 367.5)">1250</text>
<text class="xt" transform="matrix(1 .0005 0 1 498.81 367.5)">2500</text>
<text class="xt" transform="matrix(1 .0005 0 1 513.42 367.5)">5000</text>
<text class="at" transform="matrix(1 .0005 0 1 425.2 381.5)" style="word-spacing:-0.73px">LPS (pg/ml)</text>
<text class="at" transform="translate(316.2 288.5) rotate(-90) scale(0.96 1)" style="word-spacing:0.29px">IL-12 p70 production (pg/ml)</text>
<polyline class="ln" points="338.1,353.75 352.71,353.75 367.32,356.3 381.93,353.7 396.54,341.9 411.15,327.9 425.76,307.7 440.37,310.6 454.98,307.7 469.59,313.5 484.2,327.9 498.81,339.4 513.42,322.1"/>
<polyline class="ln" points="338.1,353.9 352.71,356.4 367.32,356.5 381.93,354 396.54,356.3 411.15,353.5 425.76,351 440.37,345.2 454.98,347.7 469.59,342.3 484.2,347.7 498.81,351 513.42,342.3"/>
<polyline class="ln" points="338.1,356.5 352.71,353.9 367.32,359 381.93,356.9 396.54,358.3 411.15,356.9 425.76,356.9 440.37,347.7 454.98,353.5 469.59,356.9 484.2,353.7 498.81,356.6 513.42,356.6"/>
<polyline class="ln" points="338.1,356.6 352.71,356.5 367.32,359.2 381.93,357.1 396.54,357.5 411.15,356.9 425.76,356.9 440.37,351.5 454.98,356.9 469.59,356.9 484.2,356.6 498.81,359.4 513.42,356.9"/>
<polyline class="ln" points="338.1,360 352.71,360 367.32,359 381.93,359.6 396.54,359.6 411.15,360.1 425.76,360.1 440.37,354.8 454.98,356.5 469.59,360.1 484.2,360.1 498.81,353.75 513.42,353.5"/>
<polyline class="ln" points="338.1,360 352.71,360 367.32,359.4 381.93,359.8 396.54,359.8 411.15,360.1 425.76,360.1 440.37,357.6 454.98,359.2 469.59,360.1 484.2,360.1 498.81,356 513.42,356.9"/>
<polyline class="ln" points="338.1,360 352.71,360 367.32,359.8 381.93,360 396.54,360 411.15,360.1 425.76,360.1 440.37,359.4 454.98,360 469.59,360.1 484.2,360.1 498.81,358 513.42,357"/>
<circle class="mo" cx="338.1" cy="360" r="1.85"/>
<circle class="mo" cx="352.71" cy="360" r="1.85"/>
<circle class="mo" cx="367.32" cy="359" r="1.85"/>
<circle class="mo" cx="381.93" cy="359.6" r="1.85"/>
<circle class="mo" cx="396.54" cy="359.6" r="1.85"/>
<circle class="mo" cx="411.15" cy="360.1" r="1.85"/>
<circle class="mo" cx="425.76" cy="360.1" r="1.85"/>
<circle class="mo" cx="440.37" cy="354.8" r="1.85"/>
<circle class="mo" cx="454.98" cy="356.5" r="1.85"/>
<circle class="mo" cx="469.59" cy="360.1" r="1.85"/>
<circle class="mo" cx="484.2" cy="360.1" r="1.85"/>
<circle class="mo" cx="498.81" cy="353.75" r="1.85"/>
<circle class="mo" cx="513.42" cy="353.5" r="1.85"/>
<circle class="mo" cx="338.1" cy="360" r="1.85"/>
<circle class="mo" cx="352.71" cy="360" r="1.85"/>
<circle class="mo" cx="367.32" cy="359.4" r="1.85"/>
<circle class="mo" cx="381.93" cy="359.8" r="1.85"/>
<circle class="mo" cx="396.54" cy="359.8" r="1.85"/>
<circle class="mo" cx="411.15" cy="360.1" r="1.85"/>
<circle class="mo" cx="425.76" cy="360.1" r="1.85"/>
<circle class="mo" cx="440.37" cy="357.6" r="1.85"/>
<circle class="mo" cx="454.98" cy="359.2" r="1.85"/>
<circle class="mo" cx="469.59" cy="360.1" r="1.85"/>
<circle class="mo" cx="484.2" cy="360.1" r="1.85"/>
<circle class="mo" cx="498.81" cy="356" r="1.85"/>
<circle class="mo" cx="513.42" cy="356.9" r="1.85"/>
<circle class="mo" cx="338.1" cy="360" r="1.85"/>
<circle class="mo" cx="352.71" cy="360" r="1.85"/>
<circle class="mo" cx="367.32" cy="359.8" r="1.85"/>
<circle class="mo" cx="381.93" cy="360" r="1.85"/>
<circle class="mo" cx="396.54" cy="360" r="1.85"/>
<circle class="mo" cx="411.15" cy="360.1" r="1.85"/>
<circle class="mo" cx="425.76" cy="360.1" r="1.85"/>
<circle class="mo" cx="440.37" cy="359.4" r="1.85"/>
<circle class="mo" cx="454.98" cy="360" r="1.85"/>
<circle class="mo" cx="469.59" cy="360.1" r="1.85"/>
<circle class="mo" cx="484.2" cy="360.1" r="1.85"/>
<circle class="mo" cx="498.81" cy="358" r="1.85"/>
<circle class="mo" cx="513.42" cy="357" r="1.85"/>
<ellipse class="mf" cx="338.1" cy="353.75" rx="2.1" ry="1.9"/>
<ellipse class="mf" cx="352.71" cy="353.75" rx="2.1" ry="1.9"/>
<ellipse class="mf" cx="367.32" cy="356.3" rx="2.1" ry="1.9"/>
<ellipse class="mf" cx="381.93" cy="353.7" rx="2.1" ry="1.9"/>
<ellipse class="mf" cx="396.54" cy="341.9" rx="2.1" ry="1.9"/>
<ellipse class="mf" cx="411.15" cy="327.9" rx="2.1" ry="1.9"/>
<ellipse class="mf" cx="425.76" cy="307.7" rx="2.1" ry="1.9"/>
<ellipse class="mf" cx="440.37" cy="310.6" rx="2.1" ry="1.9"/>
<ellipse class="mf" cx="454.98" cy="307.7" rx="2.1" ry="1.9"/>
<ellipse class="mf" cx="469.59" cy="313.5" rx="2.1" ry="1.9"/>
<ellipse class="mf" cx="484.2" cy="327.9" rx="2.1" ry="1.9"/>
<ellipse class="mf" cx="498.81" cy="339.4" rx="2.1" ry="1.9"/>
<ellipse class="mf" cx="513.42" cy="322.1" rx="2.1" ry="1.9"/>
<ellipse class="mf" cx="338.1" cy="353.9" rx="2.1" ry="1.9"/>
<ellipse class="mf" cx="352.71" cy="356.4" rx="2.1" ry="1.9"/>
<ellipse class="mf" cx="367.32" cy="356.5" rx="2.1" ry="1.9"/>
<ellipse class="mf" cx="381.93" cy="354" rx="2.1" ry="1.9"/>
<ellipse class="mf" cx="396.54" cy="356.3" rx="2.1" ry="1.9"/>
<ellipse class="mf" cx="411.15" cy="353.5" rx="2.1" ry="1.9"/>
<ellipse class="mf" cx="425.76" cy="351" rx="2.1" ry="1.9"/>
<ellipse class="mf" cx="440.37" cy="345.2" rx="2.1" ry="1.9"/>
<ellipse class="mf" cx="454.98" cy="347.7" rx="2.1" ry="1.9"/>
<ellipse class="mf" cx="469.59" cy="342.3" rx="2.1" ry="1.9"/>
<ellipse class="mf" cx="484.2" cy="347.7" rx="2.1" ry="1.9"/>
<ellipse class="mf" cx="498.81" cy="351" rx="2.1" ry="1.9"/>
<ellipse class="mf" cx="513.42" cy="342.3" rx="2.1" ry="1.9"/>
<ellipse class="mf" cx="338.1" cy="356.5" rx="2.1" ry="1.9"/>
<ellipse class="mf" cx="352.71" cy="353.9" rx="2.1" ry="1.9"/>
<ellipse class="mf" cx="367.32" cy="359" rx="2.1" ry="1.9"/>
<ellipse class="mf" cx="381.93" cy="356.9" rx="2.1" ry="1.9"/>
<ellipse class="mf" cx="396.54" cy="358.3" rx="2.1" ry="1.9"/>
<ellipse class="mf" cx="411.15" cy="356.9" rx="2.1" ry="1.9"/>
<ellipse class="mf" cx="425.76" cy="356.9" rx="2.1" ry="1.9"/>
<ellipse class="mf" cx="440.37" cy="347.7" rx="2.1" ry="1.9"/>
<ellipse class="mf" cx="454.98" cy="353.5" rx="2.1" ry="1.9"/>
<ellipse class="mf" cx="469.59" cy="356.9" rx="2.1" ry="1.9"/>
<ellipse class="mf" cx="484.2" cy="353.7" rx="2.1" ry="1.9"/>
<ellipse class="mf" cx="498.81" cy="356.6" rx="2.1" ry="1.9"/>
<ellipse class="mf" cx="513.42" cy="356.6" rx="2.1" ry="1.9"/>
<ellipse class="mf" cx="338.1" cy="356.6" rx="2.1" ry="1.9"/>
<ellipse class="mf" cx="352.71" cy="356.5" rx="2.1" ry="1.9"/>
<ellipse class="mf" cx="367.32" cy="359.2" rx="2.1" ry="1.9"/>
<ellipse class="mf" cx="381.93" cy="357.1" rx="2.1" ry="1.9"/>
<ellipse class="mf" cx="396.54" cy="357.5" rx="2.1" ry="1.9"/>
<ellipse class="mf" cx="411.15" cy="356.9" rx="2.1" ry="1.9"/>
<ellipse class="mf" cx="425.76" cy="356.9" rx="2.1" ry="1.9"/>
<ellipse class="mf" cx="440.37" cy="351.5" rx="2.1" ry="1.9"/>
<ellipse class="mf" cx="454.98" cy="356.9" rx="2.1" ry="1.9"/>
<ellipse class="mf" cx="469.59" cy="356.9" rx="2.1" ry="1.9"/>
<ellipse class="mf" cx="484.2" cy="356.6" rx="2.1" ry="1.9"/>
<ellipse class="mf" cx="498.81" cy="359.4" rx="2.1" ry="1.9"/>
<ellipse class="mf" cx="513.42" cy="356.9" rx="2.1" ry="1.9"/>
</g>
<g class="panel">
<text class="pl" transform="matrix(0.94 .0005 0 1 265 444.6)">F</text>
<path class="ay" d="M337.9 424.2V568.8"/>
<path class="ax" d="M337.4 568.3H513.96"/>
<path class="tk" d="M337.9 424.5h4.5M337.9 460.3h4.5M337.9 496.4h4.5M337.9 532.2h4.5M352.53 568.3v-4.7M367.16 568.3v-4.7M381.79 568.3v-4.7M396.42 568.3v-4.7M411.05 568.3v-4.7M425.68 568.3v-4.7M440.31 568.3v-4.7M454.94 568.3v-4.7M469.57 568.3v-4.7M484.2 568.3v-4.7M498.83 568.3v-4.7M513.46 568.3v-4.7"/>
<text class="yt" transform="matrix(1 .0005 0 1 333.8 427.5)">1000</text>
<text class="yt" transform="matrix(1 .0005 0 1 333.8 463.3)">750</text>
<text class="yt" transform="matrix(1 .0005 0 1 333.8 499.4)">500</text>
<text class="yt" transform="matrix(1 .0005 0 1 333.8 535.2)">250</text>
<text class="yt" transform="matrix(1 .0005 0 1 333.8 571)">0</text>
<text class="xt" transform="matrix(1 .0005 0 1 337.9 576.2)">0</text>
<text class="xt" transform="matrix(1 .0005 0 1 352.53 576.2)">2</text>
<text class="xt" transform="matrix(1 .0005 0 1 367.16 576.2)">5</text>
<text class="xt" transform="matrix(1 .0005 0 1 381.79 576.2)">10</text>
<text class="xt" transform="matrix(1 .0005 0 1 396.42 576.2)">20</text>
<text class="xt" transform="matrix(1 .0005 0 1 411.05 576.2)">39</text>
<text class="xt" transform="matrix(1 .0005 0 1 425.68 576.2)">78</text>
<text class="xt" transform="matrix(1 .0005 0 1 440.31 576.2)">156</text>
<text class="xt" transform="matrix(1 .0005 0 1 454.94 576.2)">313</text>
<text class="xt" transform="matrix(1 .0005 0 1 469.57 576.2)">625</text>
<text class="xt" transform="matrix(1 .0005 0 1 484.2 576.2)">1250</text>
<text class="xt" transform="matrix(1 .0005 0 1 498.83 576.2)">2500</text>
<text class="xt" transform="matrix(1 .0005 0 1 513.46 576.2)">5000</text>
<text class="at" transform="matrix(1 .0005 0 1 425.2 590.2)" style="word-spacing:-0.73px">LPS (pg/ml)</text>
<text class="at" transform="translate(305.7 497) rotate(-90) scale(0.96 1)" style="word-spacing:0.1px">IL-10 production (pg/ml)</text>
<polyline class="ln" points="337.9,558.1 352.53,553.5 367.16,549.4 381.79,539 396.42,543.1 411.05,541.5 425.68,524.2 440.31,519 454.94,503.5 469.57,503.1 484.2,514 498.83,496.3 513.46,499.6"/>
<polyline class="ln" points="337.9,559.5 352.53,557.5 367.16,551.5 381.79,544.4 396.42,548.75 411.05,534 425.68,532.5 440.31,522.3 454.94,521.3 469.57,520.4 484.2,523.7 498.83,523.8 513.46,493.1"/>
<polyline class="ln" points="337.9,563.1 352.53,559 367.16,559.6 381.79,556.3 396.42,555 411.05,556.5 425.68,546.7 440.31,544.4 454.94,545.4 469.57,546.3 484.2,545.4 498.83,531 513.46,516.5"/>
<polyline class="ln" points="337.9,568.1 352.53,560 367.16,565 381.79,557.5 396.42,559.4 411.05,556.5 425.68,550.2 440.31,546.3 454.94,548.7 469.57,547.7 484.2,547.3 498.83,538.1 513.46,527.5"/>
<polyline class="ln" points="337.9,565 352.53,558 367.16,551 381.79,539.5 396.42,524 411.05,499.2 425.68,472.7 440.31,451.9 454.94,438.5 469.57,456.3 484.2,456.9 498.83,490.2 513.46,424.2"/>
<polyline class="ln" points="337.9,566 352.53,559.5 367.16,553 381.79,542 396.42,534 411.05,519.6 425.68,501 440.31,481.8 454.94,468.5 469.57,449.6 484.2,449.6 498.83,440.4 513.46,424.2"/>
<polyline class="ln" points="337.9,566.5 352.53,560.5 367.16,555.4 381.79,556.5 396.42,548.75 411.05,549.2 425.68,537.1 440.31,524.6 454.94,521.3 469.57,526.5 484.2,520.8 498.83,521.3 513.46,507.9"/>
<circle class="mo" cx="337.9" cy="565" r="1.85"/>
<circle class="mo" cx="352.53" cy="558" r="1.85"/>
<circle class="mo" cx="367.16" cy="551" r="1.85"/>
<circle class="mo" cx="381.79" cy="539.5" r="1.85"/>
<circle class="mo" cx="396.42" cy="524" r="1.85"/>
<circle class="mo" cx="411.05" cy="499.2" r="1.85"/>
<circle class="mo" cx="425.68" cy="472.7" r="1.85"/>
<circle class="mo" cx="440.31" cy="451.9" r="1.85"/>
<circle class="mo" cx="454.94" cy="438.5" r="1.85"/>
<circle class="mo" cx="469.57" cy="456.3" r="1.85"/>
<circle class="mo" cx="484.2" cy="456.9" r="1.85"/>
<circle class="mo" cx="498.83" cy="490.2" r="1.85"/>
<circle class="mo" cx="513.46" cy="424.2" r="1.85"/>
<circle class="mo" cx="337.9" cy="566" r="1.85"/>
<circle class="mo" cx="352.53" cy="559.5" r="1.85"/>
<circle class="mo" cx="367.16" cy="553" r="1.85"/>
<circle class="mo" cx="381.79" cy="542" r="1.85"/>
<circle class="mo" cx="396.42" cy="534" r="1.85"/>
<circle class="mo" cx="411.05" cy="519.6" r="1.85"/>
<circle class="mo" cx="425.68" cy="501" r="1.85"/>
<circle class="mo" cx="440.31" cy="481.8" r="1.85"/>
<circle class="mo" cx="454.94" cy="468.5" r="1.85"/>
<circle class="mo" cx="469.57" cy="449.6" r="1.85"/>
<circle class="mo" cx="484.2" cy="449.6" r="1.85"/>
<circle class="mo" cx="498.83" cy="440.4" r="1.85"/>
<circle class="mo" cx="513.46" cy="424.2" r="1.85"/>
<circle class="mo" cx="337.9" cy="566.5" r="1.85"/>
<circle class="mo" cx="352.53" cy="560.5" r="1.85"/>
<circle class="mo" cx="367.16" cy="555.4" r="1.85"/>
<circle class="mo" cx="381.79" cy="556.5" r="1.85"/>
<circle class="mo" cx="396.42" cy="548.75" r="1.85"/>
<circle class="mo" cx="411.05" cy="549.2" r="1.85"/>
<circle class="mo" cx="425.68" cy="537.1" r="1.85"/>
<circle class="mo" cx="440.31" cy="524.6" r="1.85"/>
<circle class="mo" cx="454.94" cy="521.3" r="1.85"/>
<circle class="mo" cx="469.57" cy="526.5" r="1.85"/>
<circle class="mo" cx="484.2" cy="520.8" r="1.85"/>
<circle class="mo" cx="498.83" cy="521.3" r="1.85"/>
<circle class="mo" cx="513.46" cy="507.9" r="1.85"/>
<ellipse class="mf" cx="337.9" cy="558.1" rx="2.1" ry="1.9"/>
<ellipse class="mf" cx="352.53" cy="553.5" rx="2.1" ry="1.9"/>
<ellipse class="mf" cx="367.16" cy="549.4" rx="2.1" ry="1.9"/>
<ellipse class="mf" cx="381.79" cy="539" rx="2.1" ry="1.9"/>
<ellipse class="mf" cx="396.42" cy="543.1" rx="2.1" ry="1.9"/>
<ellipse class="mf" cx="411.05" cy="541.5" rx="2.1" ry="1.9"/>
<ellipse class="mf" cx="425.68" cy="524.2" rx="2.1" ry="1.9"/>
<ellipse class="mf" cx="440.31" cy="519" rx="2.1" ry="1.9"/>
<ellipse class="mf" cx="454.94" cy="503.5" rx="2.1" ry="1.9"/>
<ellipse class="mf" cx="469.57" cy="503.1" rx="2.1" ry="1.9"/>
<ellipse class="mf" cx="484.2" cy="514" rx="2.1" ry="1.9"/>
<ellipse class="mf" cx="498.83" cy="496.3" rx="2.1" ry="1.9"/>
<ellipse class="mf" cx="513.46" cy="499.6" rx="2.1" ry="1.9"/>
<ellipse class="mf" cx="337.9" cy="559.5" rx="2.1" ry="1.9"/>
<ellipse class="mf" cx="352.53" cy="557.5" rx="2.1" ry="1.9"/>
<ellipse class="mf" cx="367.16" cy="551.5" rx="2.1" ry="1.9"/>
<ellipse class="mf" cx="381.79" cy="544.4" rx="2.1" ry="1.9"/>
<ellipse class="mf" cx="396.42" cy="548.75" rx="2.1" ry="1.9"/>
<ellipse class="mf" cx="411.05" cy="534" rx="2.1" ry="1.9"/>
<ellipse class="mf" cx="425.68" cy="532.5" rx="2.1" ry="1.9"/>
<ellipse class="mf" cx="440.31" cy="522.3" rx="2.1" ry="1.9"/>
<ellipse class="mf" cx="454.94" cy="521.3" rx="2.1" ry="1.9"/>
<ellipse class="mf" cx="469.57" cy="520.4" rx="2.1" ry="1.9"/>
<ellipse class="mf" cx="484.2" cy="523.7" rx="2.1" ry="1.9"/>
<ellipse class="mf" cx="498.83" cy="523.8" rx="2.1" ry="1.9"/>
<ellipse class="mf" cx="513.46" cy="493.1" rx="2.1" ry="1.9"/>
<ellipse class="mf" cx="337.9" cy="563.1" rx="2.1" ry="1.9"/>
<ellipse class="mf" cx="352.53" cy="559" rx="2.1" ry="1.9"/>
<ellipse class="mf" cx="367.16" cy="559.6" rx="2.1" ry="1.9"/>
<ellipse class="mf" cx="381.79" cy="556.3" rx="2.1" ry="1.9"/>
<ellipse class="mf" cx="396.42" cy="555" rx="2.1" ry="1.9"/>
<ellipse class="mf" cx="411.05" cy="556.5" rx="2.1" ry="1.9"/>
<ellipse class="mf" cx="425.68" cy="546.7" rx="2.1" ry="1.9"/>
<ellipse class="mf" cx="440.31" cy="544.4" rx="2.1" ry="1.9"/>
<ellipse class="mf" cx="454.94" cy="545.4" rx="2.1" ry="1.9"/>
<ellipse class="mf" cx="469.57" cy="546.3" rx="2.1" ry="1.9"/>
<ellipse class="mf" cx="484.2" cy="545.4" rx="2.1" ry="1.9"/>
<ellipse class="mf" cx="498.83" cy="531" rx="2.1" ry="1.9"/>
<ellipse class="mf" cx="513.46" cy="516.5" rx="2.1" ry="1.9"/>
<ellipse class="mf" cx="337.9" cy="568.1" rx="2.1" ry="1.9"/>
<ellipse class="mf" cx="352.53" cy="560" rx="2.1" ry="1.9"/>
<ellipse class="mf" cx="367.16" cy="565" rx="2.1" ry="1.9"/>
<ellipse class="mf" cx="381.79" cy="557.5" rx="2.1" ry="1.9"/>
<ellipse class="mf" cx="396.42" cy="559.4" rx="2.1" ry="1.9"/>
<ellipse class="mf" cx="411.05" cy="556.5" rx="2.1" ry="1.9"/>
<ellipse class="mf" cx="425.68" cy="550.2" rx="2.1" ry="1.9"/>
<ellipse class="mf" cx="440.31" cy="546.3" rx="2.1" ry="1.9"/>
<ellipse class="mf" cx="454.94" cy="548.7" rx="2.1" ry="1.9"/>
<ellipse class="mf" cx="469.57" cy="547.7" rx="2.1" ry="1.9"/>
<ellipse class="mf" cx="484.2" cy="547.3" rx="2.1" ry="1.9"/>
<ellipse class="mf" cx="498.83" cy="538.1" rx="2.1" ry="1.9"/>
<ellipse class="mf" cx="513.46" cy="527.5" rx="2.1" ry="1.9"/>
</g>
</svg>
</body>
</html>
